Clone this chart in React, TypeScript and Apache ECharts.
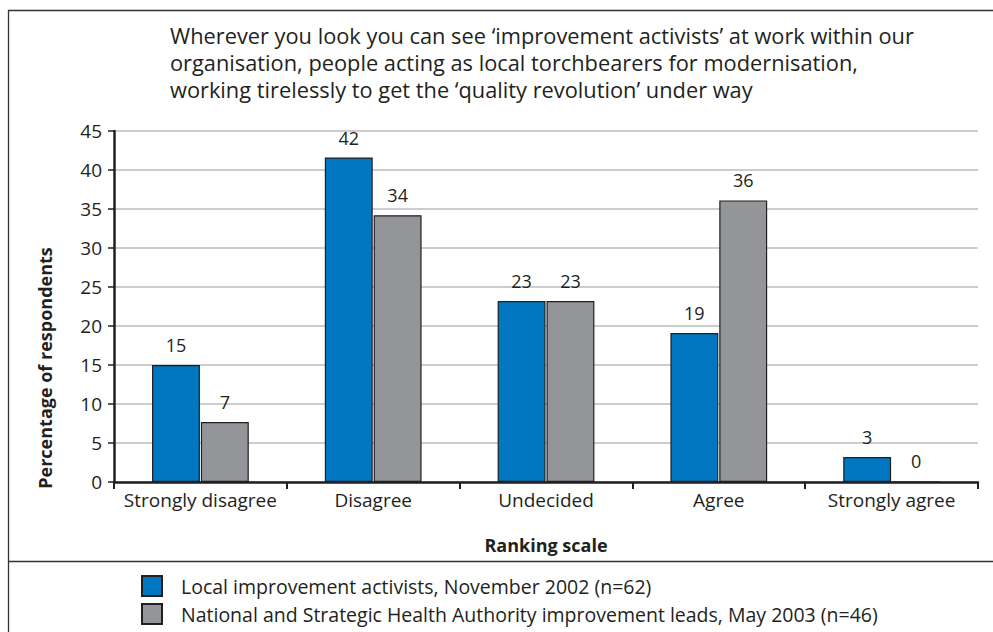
import React, { useEffect, useRef } from "react";
import * as echarts from "echarts";

const categories = ["Strongly disagree", "Disagree", "Undecided", "Agree", "Strongly agree"];
const localValues = [15, 41.6, 23.2, 19.1, 3.2];
const localLabels = ["15", "42", "23", "19", "3"];
const nationalValues = [7.7, 34.2, 23.2, 36.1, 0];
const nationalLabels = ["7", "34", "23", "36", "0"];
const seriesNames = [
  "Local improvement activists, November 2002 (n=62)",
  "National and Strategic Health Authority improvement leads, May 2003 (n=46)",
];
const titleText =
  "Wherever you look you can see \u2018improvement activists\u2019 at work within our\norganisation, people acting as local torchbearers for modernisation,\nworking tirelessly to get the \u2018quality revolution\u2019 under way";
const yAxisTitle = "Percentage of respondents";
const xAxisTitle = "Ranking scale";
const yTicks = { min: 0, max: 45, interval: 5 };

const FONT = "Open Sans";
const TEXT = "#231f20";

export default function App() {
  const ref = useRef<HTMLDivElement>(null);
  useEffect(() => {
    document.body.style.margin = "0";
    const chart = echarts.init(ref.current!, undefined, { renderer: "svg" });
    const labelStyle = (labels: string[]) => ({
      show: true,
      position: "top" as const,
      distance: 11,
      fontFamily: FONT,
      fontSize: 18,
      color: TEXT,
      formatter: (p: any) => labels[p.dataIndex],
    });
    chart.setOption({
      animation: false,
      textStyle: { fontFamily: FONT, color: TEXT },
      title: {
        text: titleText,
        left: 165,
        top: 17,
        textStyle: { fontFamily: FONT, fontSize: 21.8, fontWeight: "normal", color: TEXT, lineHeight: 27 },
      },
      graphic: [
        {
          type: "rect",
          shape: { x: 8.5, y: 10.5, width: 1000, height: 700 },
          style: { fill: "none", stroke: "#333", lineWidth: 1.3 },
          silent: true,
        },
        {
          type: "line",
          shape: { x1: 8, y1: 561.5, x2: 993, y2: 561.5 },
          style: { stroke: "#333", lineWidth: 1.3 },
          silent: true,
        },
        {
          type: "text",
          x: 45,
          y: 368,
          rotation: Math.PI / 2,
          style: {
            text: yAxisTitle,
            fontFamily: FONT,
            fontSize: 18,
            fontWeight: "bold",
            fill: TEXT,
            align: "center",
            verticalAlign: "middle",
          },
          silent: true,
        },
      ],
      legend: {
        orient: "vertical",
        left: 136,
        top: 570,
        icon: "rect",
        itemWidth: 20,
        itemHeight: 20,
        itemGap: 6,
        textStyle: { fontFamily: FONT, fontSize: 19.5, color: TEXT, padding: [0, 0, 0, 14] },
        data: seriesNames,
      },
      grid: { left: 114, right: 15, top: 131, bottom: 150, containLabel: false },
      xAxis: {
        type: "category",
        data: categories,
        name: xAxisTitle,
        nameLocation: "middle",
        nameGap: 54,
        nameTextStyle: { fontFamily: FONT, fontSize: 18, fontWeight: "bold", color: TEXT },
        axisLine: { lineStyle: { color: "#231f20", width: 2.5 } },
        axisTick: { show: true, alignWithLabel: false, length: 7, lineStyle: { color: "#231f20", width: 2 } },
        axisLabel: { fontFamily: FONT, fontSize: 19, color: TEXT, margin: 8, interval: 0, hideOverlap: false },
      },
      yAxis: {
        type: "value",
        min: yTicks.min,
        max: yTicks.max,
        interval: yTicks.interval,
        axisLine: { show: true, lineStyle: { color: "#231f20", width: 2.5 } },
        axisTick: { show: true, length: 6, lineStyle: { color: "#231f20", width: 1.5 } },
        axisLabel: { fontFamily: FONT, fontSize: 19, color: TEXT, margin: 12 },
        splitLine: { show: true, lineStyle: { color: "#bcbdc0", width: 1.5 } },
      },
      series: [
        {
          name: seriesNames[0],
          type: "bar",
          data: localValues,
          barGap: "2%",
          barCategoryGap: "44%",
          itemStyle: { color: "#0077c0", borderColor: "#231f20", borderWidth: 1.2 },
          label: labelStyle(localLabels),
        },
        {
          name: seriesNames[1],
          type: "bar",
          data: nationalValues,
          itemStyle: { color: "#939598", borderColor: "#231f20", borderWidth: 1.2 },
          label: labelStyle(nationalLabels),
        },
      ],
    });
    return () => chart.dispose();
  }, []);
  return <div ref={ref} style={{ width: 993, height: 632 }} />;
}
